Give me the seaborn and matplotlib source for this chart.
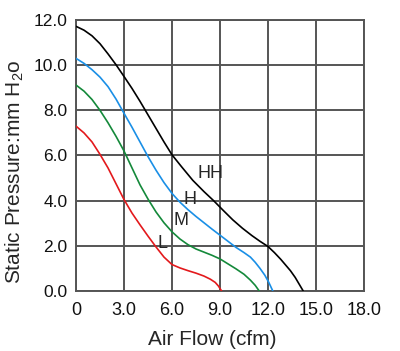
import numpy as np
import pandas as pd
from matplotlib import pyplot as plt
import seaborn as sns

# fan curves (air flow cfm, static pressure mmH2O)
hh_x = [0, 0.5, 1.0, 1.5, 2.0, 2.5, 3.0, 3.5, 4.0, 4.5, 5.0, 5.5, 6.0, 6.6, 7.3, 8.0, 8.6,
        9.2, 9.8, 10.4, 11.0, 11.5, 12.0, 12.4, 12.8, 13.1, 13.4, 13.7, 13.95, 14.2]
hh_y = [11.72, 11.55, 11.3, 10.95, 10.5, 10.02, 9.5, 8.97, 8.4, 7.8, 7.2, 6.6, 6.03, 5.5, 4.9, 4.4, 4.0,
        3.57, 3.15, 2.78, 2.45, 2.2, 1.97, 1.7, 1.4, 1.15, 0.9, 0.6, 0.3, 0]

h_x = [0, 0.5, 1.0, 1.5, 2.0, 2.5, 3.0, 3.5, 4.0, 4.5, 5.0, 5.5, 6.0, 6.5, 7.0, 7.5, 8.0,
       8.5, 9.0, 9.5, 10.0, 10.5, 10.9, 11.2, 11.5, 11.8, 12.05, 12.3]
h_y = [10.3, 10.08, 9.8, 9.47, 9.05, 8.5, 7.87, 7.25, 6.6, 5.95, 5.35, 4.8, 4.32, 3.93, 3.6, 3.3, 3.02,
       2.74, 2.47, 2.2, 1.93, 1.7, 1.5, 1.27, 1.0, 0.7, 0.38, 0]

m_x = [0, 0.5, 1.0, 1.5, 2.0, 2.5, 3.0, 3.5, 4.0, 4.5, 5.0, 5.5, 6.0, 6.5, 7.0, 7.5, 8.0,
       8.5, 9.0, 9.5, 10.0, 10.5, 10.9, 11.2, 11.45]
m_y = [9.12, 8.85, 8.48, 8.0, 7.45, 6.85, 6.2, 5.45, 4.7, 4.07, 3.5, 3.02, 2.62, 2.3, 2.05, 1.86, 1.72,
       1.58, 1.42, 1.2, 0.98, 0.74, 0.48, 0.25, 0]

l_x = [0, 0.5, 1.0, 1.5, 2.0, 2.5, 3.0, 3.5, 4.0, 4.5, 5.0, 5.5, 6.0, 6.5, 7.0, 7.5, 8.0,
       8.4, 8.7, 8.9, 9.1]
l_y = [7.3, 7.0, 6.6, 6.05, 5.45, 4.75, 4.05, 3.45, 2.93, 2.43, 1.95, 1.5, 1.17, 1.02, 0.9, 0.79, 0.66,
       0.52, 0.38, 0.22, 0]

names = ['HH', 'H', 'M', 'L']
colors = ['#000000', '#1a8fe6', '#14893a', '#e3191c']
xticks = [0, 3, 6, 9, 12, 15, 18]
xtick_labels = ['0', '3.0', '6.0', '9.0', '12.0', '15.0', '18.0']
yticks = [0, 2, 4, 6, 8, 10, 12]
ytick_labels = ['0.0', '2.0', '4.0', '6.0', '8.0', '10.0', '12.0']

frames = []
for n, xs, ys in zip(names, [hh_x, h_x, m_x, l_x], [hh_y, h_y, m_y, l_y]):
    frames.append(pd.DataFrame({'flow': xs, 'pressure': ys, 'speed': n}))
df = pd.concat(frames, ignore_index=True)

sns.set_style('white')
plt.rcParams['font.family'] = ['Liberation Sans', 'DejaVu Sans']
plt.rcParams['mathtext.fontset'] = 'custom'
plt.rcParams['mathtext.rm'] = 'Liberation Sans'

fig = plt.figure(figsize=(4.0, 3.51), dpi=100)
ax = fig.add_axes([0.19, 0.171, 0.72, 0.772])

sns.lineplot(data=df, x='flow', y='pressure', hue='speed', hue_order=names,
             palette=dict(zip(names, colors)), sort=False, estimator=None,
             linewidth=1.2, legend=False, ax=ax, zorder=3)

ax.set_xlim(0, 18)
ax.set_ylim(0, 12)
ax.set_xticks(xticks)
ax.set_xticklabels(xtick_labels)
ax.set_yticks(yticks)
ax.set_yticklabels(ytick_labels)
ax.tick_params(length=0, colors='#111111')
ax.tick_params(axis='x', labelsize=13, pad=8)
ax.tick_params(axis='y', labelsize=12.5, pad=6)
ax.grid(True, color='#555555', linewidth=1.4)
for s in ax.spines.values():
    s.set_color('#555555')
    s.set_linewidth(1.4)

ax.set_xlabel('Air Flow (cfm)', fontsize=15)
ax.set_ylabel('Static Pressure:mm H$\\mathregular{_2}$o', fontsize=15)
ax.xaxis.set_label_coords(0.472, -0.145)
ax.yaxis.set_label_coords(-0.175, 0.44)

# curve labels
ax.text(8.4, 5.2, 'HH', fontsize=13, ha='center', va='center')
ax.text(7.1, 4.06, 'H', fontsize=13, ha='center', va='center')
ax.text(6.55, 3.1, 'M', fontsize=13, ha='center', va='center')
ax.text(5.4, 2.1, 'L', fontsize=13, ha='center', va='center')

fig.savefig('out.png', dpi=100)
